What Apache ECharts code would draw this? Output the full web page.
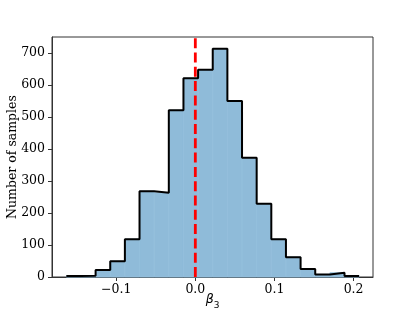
<!DOCTYPE html>
<html>
<head>
<meta charset="utf-8">
<script src="https://cdn.jsdelivr.net/npm/echarts@6/dist/echarts.min.js"></script>
<style>
html,body{margin:0;padding:0;background:#fff;}
#c{width:415px;height:311px;}
</style>
</head>
<body>
<div id="c"></div>
<script>
// Histogram bin edges (21 edges -> 20 bins)
const binEdges = [-0.163, -0.1445, -0.126, -0.1075, -0.089, -0.0705, -0.052, -0.0335, -0.015, 0.0035,
  0.022, 0.0405, 0.059, 0.0775, 0.096, 0.1145, 0.133, 0.1515, 0.170, 0.1885, 0.207];
// Counts per bin
const counts = [3, 4, 22, 49, 118, 268, 263, 521, 621, 648, 713, 550, 373, 229, 118, 62, 25, 8, 13, 3];
// Tick values
const xTicks = [-0.1, 0.0, 0.1, 0.2];
const yTicks = [0, 100, 200, 300, 400, 500, 600, 700];
// Reference value (true parameter)
const refValue = 0.0;

const rectData = counts.map((c, i) => [binEdges[i], binEdges[i + 1], c]);
const stepData = counts.map((c, i) => [binEdges[i], c]);
stepData.push([binEdges[binEdges.length - 1], counts[counts.length - 1]]);

const serif = 'DejaVu Serif';
const yMax = 750;
const chart = echarts.init(document.getElementById('c'), null, {renderer: 'canvas'});
chart.setOption({
  animation: false,
  backgroundColor: '#fff',
  grid: {left: 52, right: 42, top: 37, bottom: 34, outerBoundsMode: 'none', containLabel: false,
    show: true, borderColor: '#333', borderWidth: 1, backgroundColor: 'transparent'},
  xAxis: {
    type: 'value', min: -0.1811, max: 0.2245,
    axisLine: {show: true, onZero: false, lineStyle: {color: '#333', width: 1}},
    axisTick: {show: true, customValues: xTicks, length: 4, lineStyle: {color: '#333'}},
    axisLabel: {customValues: xTicks, margin: 6, fontFamily: serif, fontSize: 12.5, color: '#000',
      formatter: v => v.toFixed(1).replace('-', '\u2212')},
    splitLine: {show: false},
    name: '{b|β}{s|3}', nameLocation: 'middle', nameGap: 16, nameMoveOverlap: false,
    nameTextStyle: {verticalAlign: 'top', rich: {
      b: {fontFamily: 'DejaVu Sans', fontStyle: 'italic', fontSize: 12.5, color: '#000'},
      s: {fontFamily: 'DejaVu Sans', fontSize: 9, color: '#000', verticalAlign: 'bottom', padding: [0, 0, -4, 0]}
    }}
  },
  yAxis: {
    type: 'value', min: 0, max: yMax,
    axisLine: {show: true, onZero: false, lineStyle: {color: '#333', width: 1}},
    axisTick: {show: true, customValues: yTicks, length: 4, lineStyle: {color: '#333'}},
    axisLabel: {customValues: yTicks, margin: 7, fontFamily: serif, fontSize: 12.5, color: '#000'},
    splitLine: {show: false},
    name: 'Number of samples', nameLocation: 'middle', nameGap: 33, nameMoveOverlap: false,
    nameTextStyle: {fontFamily: serif, fontSize: 12.5, color: '#000'}
  },
  series: [
    {
      type: 'custom',
      data: rectData,
      encode: {x: [0, 1], y: 2},
      renderItem: function (params, api) {
        const p0 = api.coord([api.value(0), api.value(2)]);
        const p1 = api.coord([api.value(1), 0]);
        return {
          type: 'rect',
          shape: {x: p0[0], y: p0[1], width: p1[0] - p0[0], height: p1[1] - p0[1]},
          style: {fill: '#8fbbd9', stroke: '#94bfdc', lineWidth: 1}
        };
      },
      z: 1
    },
    {
      type: 'line', step: 'end', data: stepData, symbol: 'none',
      lineStyle: {color: '#000', width: 2}, z: 3
    },
    {
      type: 'custom',
      data: [[refValue]],
      encode: {x: 0},
      renderItem: function (params, api) {
        const a = api.coord([api.value(0), 0]);
        const b = api.coord([api.value(0), yMax]);
        return {
          type: 'line',
          shape: {x1: a[0], y1: a[1], x2: b[0], y2: b[1]},
          style: {stroke: '#ff0000', lineWidth: 2.8, lineDash: [10, 4.3], fill: null}
        };
      },
      z: 4
    }
  ]
});
</script>
</body>
</html>
